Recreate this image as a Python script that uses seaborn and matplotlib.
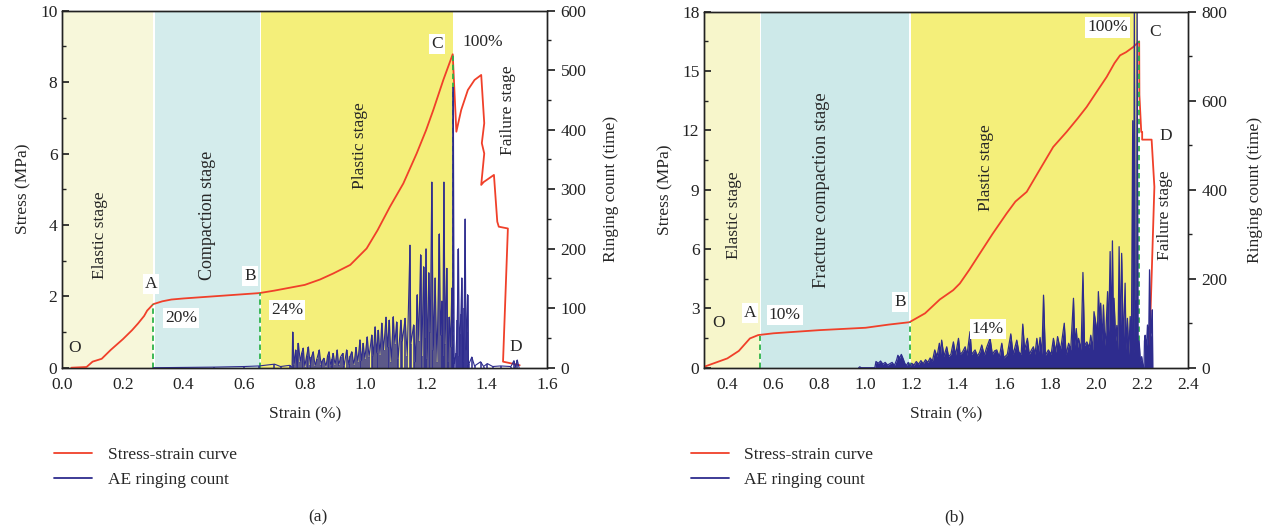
import numpy as np
import pandas as pd
import matplotlib
matplotlib.use("Agg")
import matplotlib.pyplot as plt
import seaborn as sns
from matplotlib.lines import Line2D
from matplotlib.ticker import MultipleLocator

# ---------------- data: panel (a) ----------------
stress_a_strain = [0.03, 0.08, 0.10, 0.13, 0.16, 0.20, 0.23, 0.25, 0.27, 0.28, 0.30, 0.33, 0.36, 0.40,
                   0.50, 0.60, 0.65, 0.70, 0.75, 0.80, 0.85, 0.894, 0.95, 1.004, 1.04, 1.081, 1.125,
                   1.169, 1.20, 1.224, 1.257, 1.288, 1.30, 1.316, 1.338, 1.36, 1.382, 1.392, 1.384,
                   1.392, 1.382, 1.39, 1.424, 1.435, 1.44, 1.47, 1.454, 1.509]
stress_a = [0.0, 0.02, 0.17, 0.25, 0.50, 0.80, 1.05, 1.24, 1.45, 1.60, 1.78, 1.86, 1.91, 1.94,
            2.00, 2.06, 2.09, 2.16, 2.24, 2.32, 2.47, 2.64, 2.88, 3.34, 3.85, 4.51, 5.16,
            6.00, 6.65, 7.22, 8.06, 8.78, 6.61, 7.22, 7.78, 8.06, 8.20, 6.85, 6.29,
            6.00, 5.12, 5.20, 5.40, 4.09, 3.95, 3.90, 0.17, 0.07]

ae_a_strain = [0.30, 0.50, 0.60, 0.65, 0.70, 0.72, 0.75, 0.758, 0.760, 0.765, 0.770, 0.775, 0.779,
               0.785, 0.790, 0.795, 0.800, 0.806, 0.812, 0.818, 0.822, 0.828, 0.834, 0.840, 0.848,
               0.854, 0.858, 0.863, 0.870, 0.875, 0.880, 0.886, 0.890, 0.894, 0.900, 0.907, 0.912,
               0.918, 0.925, 0.930, 0.938, 0.945, 0.950, 0.955, 0.962, 0.969, 0.975, 0.982, 0.987,
               0.993, 0.998, 1.006, 1.012, 1.021, 1.026, 1.032, 1.037, 1.043, 1.048, 1.054, 1.060,
               1.068, 1.073, 1.079, 1.085, 1.092, 1.097, 1.103, 1.108, 1.117, 1.122, 1.131, 1.138,
               1.147, 1.150, 1.159, 1.165, 1.171, 1.176, 1.182, 1.186, 1.192, 1.196, 1.200, 1.204,
               1.209, 1.214, 1.219, 1.224, 1.230, 1.236, 1.244, 1.248, 1.252, 1.255, 1.259, 1.263,
               1.268, 1.272, 1.277, 1.281, 1.285, 1.288, 1.290, 1.293, 1.299, 1.303, 1.307, 1.310,
               1.312, 1.315, 1.318, 1.321, 1.323, 1.326, 1.329, 1.332, 1.334, 1.337, 1.340, 1.342,
               1.351, 1.360, 1.380, 1.390, 1.402, 1.420, 1.446, 1.480, 1.490, 1.495, 1.501, 1.507]
ae_a_count = [0, 1, 2, 3, 6, 2, 4, 0, 60, 5, 30, 0, 41,
              10, 25, 33, 2, 20, 35, 5, 18, 27, 3, 15, 30,
              4, 12, 16, 2, 20, 27, 3, 15, 24, 5, 30, 4,
              18, 24, 3, 30, 6, 20, 27, 5, 34, 10, 47, 12,
              41, 15, 52, 18, 55, 20, 69, 25, 63, 22, 75, 30,
              85, 35, 80, 10, 86, 40, 77, 15, 80, 45, 83, 20,
              206, 40, 72, 10, 123, 45, 190, 20, 170, 50, 200, 15,
              160, 60, 312, 30, 151, 10, 225, 55, 112, 20, 312, 40,
              167, 10, 85, 35, 134, 20, 471, 5, 24, 80, 200, 20,
              57, 90, 151, 10, 29, 100, 250, 30, 60, 123, 5, 7,
              18, 3, 10, 2, 7, 2, 3, 2, 12, 1, 13, 0]

# ---------------- data: panel (b) ----------------
stress_b_strain = [0.30, 0.40, 0.45, 0.498, 0.534, 0.60, 0.70, 0.80, 0.90, 1.00, 1.10, 1.19, 1.258,
                   1.322, 1.38, 1.409, 1.45, 1.496, 1.55, 1.612, 1.65, 1.699, 1.75, 1.814, 1.872,
                   1.92, 1.959, 2.00, 2.046, 2.08, 2.104, 2.13, 2.161, 2.187, 2.188, 2.196, 2.200,
                   2.200, 2.241, 2.253, 2.237, 2.232]
stress_b = [0.05, 0.47, 0.85, 1.48, 1.65, 1.74, 1.82, 1.90, 1.96, 2.02, 2.18, 2.30, 2.75,
            3.45, 3.92, 4.26, 4.95, 5.78, 6.75, 7.80, 8.40, 8.89, 9.90, 11.16, 11.92,
            12.60, 13.18, 13.90, 14.70, 15.40, 15.79, 15.95, 16.21, 16.50, 13.80, 11.92, 11.92,
            11.53, 11.53, 9.14, 3.08, 0.80]

ae_b_strain = [0.97, 0.975, 0.98, 1.04, 1.045, 1.055, 1.065, 1.075, 1.085, 1.095, 1.105, 1.115, 1.125,
               1.135, 1.14, 1.148, 1.155, 1.163, 1.17, 1.177, 1.185, 1.192, 1.20, 1.21, 1.22, 1.23,
               1.24, 1.25, 1.26, 1.27, 1.28, 1.29, 1.30, 1.31, 1.32, 1.325, 1.33, 1.34, 1.345, 1.352,
               1.36, 1.37, 1.381, 1.39, 1.403, 1.41, 1.42, 1.432, 1.44, 1.453, 1.46, 1.475, 1.485,
               1.495, 1.504, 1.515, 1.525, 1.54, 1.55, 1.56, 1.569, 1.58, 1.591, 1.60, 1.605, 1.615,
               1.63, 1.64, 1.656, 1.665, 1.675, 1.682, 1.69, 1.702, 1.71, 1.72, 1.728, 1.735, 1.743,
               1.75, 1.757, 1.765, 1.772, 1.78, 1.793, 1.805, 1.815, 1.825, 1.833, 1.845, 1.85, 1.862,
               1.87, 1.881, 1.89, 1.902, 1.908, 1.914, 1.92, 1.924, 1.935, 1.943, 1.95, 1.96, 1.97,
               1.977, 1.985, 1.991, 2.00, 2.005, 2.01, 2.015, 2.02, 2.026, 2.032, 2.038, 2.043, 2.05,
               2.055, 2.061, 2.066, 2.071, 2.075, 2.078, 2.085, 2.09, 2.095, 2.10, 2.105, 2.111,
               2.118, 2.126, 2.13, 2.136, 2.142, 2.148, 2.153, 2.159, 2.163, 2.166, 2.17, 2.174,
               2.176, 2.178, 2.182, 2.187, 2.192, 2.198, 2.203, 2.208, 2.21, 2.213, 2.218, 2.223,
               2.228, 2.232, 2.236, 2.24, 2.244, 2.246]
ae_b_count = [0, 2, 0, 0, 14, 10, 15, 8, 12, 6, 9, 12, 5,
              18, 28, 22, 30, 20, 10, 5, 12, 3, 10, 6, 14, 8,
              16, 9, 18, 12, 22, 15, 40, 25, 55, 30, 62, 25, 35, 47,
              25, 30, 58, 28, 66, 30, 35, 47, 28, 81, 30, 40, 26,
              35, 51, 28, 45, 66, 30, 38, 40, 24, 55, 22, 25, 30,
              76, 30, 62, 35, 30, 98, 40, 66, 30, 40, 47, 30, 66,
              35, 68, 30, 163, 28, 40, 30, 66, 35, 70, 40, 55, 100,
              30, 55, 40, 156, 50, 88, 45, 66, 40, 214, 50, 58, 45,
              73, 40, 126, 96, 60, 171, 110, 145, 60, 141, 50, 85, 171,
              80, 261, 70, 285, 90, 156, 60, 95, 40, 272, 60, 257,
              50, 190, 40, 111, 30, 115, 25, 555, 30, 820, 40, 150,
              50, 820, 20, 60, 15, 25, 5, 0, 60, 73, 40, 96,
              50, 220, 70, 80, 130, 0]

# ---------------- style ----------------
sns.set_theme(style="white")
plt.rcParams["font.family"] = ["Liberation Serif", "DejaVu Serif"]

RED = "#F0402A"
BLUE = "#2E2C8E"
GREEN = "#2DB34A"
FS = 12.5

fig = plt.figure(figsize=(12.71, 5.32), dpi=100)
ax_a = fig.add_axes([0.049, 0.3088, 0.3816, 0.6711])
ax_b = fig.add_axes([0.5541, 0.3088, 0.3808, 0.6693])


def style_axes(ax, ax2):
    for a in (ax, ax2):
        for s in a.spines.values():
            s.set_color("#222222")
            s.set_linewidth(1.0)
    ax.tick_params(axis="both", which="both", direction="in", labelsize=FS, colors="#222222",
                   top=False, right=False)
    ax.tick_params(axis="x", which="major", pad=7)
    ax.tick_params(which="major", length=5)
    ax.tick_params(which="minor", length=3)
    ax2.tick_params(axis="y", which="both", direction="out", labelsize=FS, colors="#222222")
    ax2.tick_params(which="major", length=6)
    ax2.tick_params(which="minor", length=3)


def box(ax, x, y, s, white=True, size=FS, **kw):
    bb = dict(facecolor="white", edgecolor="none", pad=1.5) if white else None
    ax.text(x, y, s, fontsize=size, ha="center", va="center", bbox=bb, zorder=6, **kw)


# ================= panel (a) =================
ax = ax_a
ax.axvspan(0.0, 0.30, color="#F7F7DA", zorder=0, lw=0)
ax.axvspan(0.305, 0.652, color="#D4ECEC", zorder=0, lw=0)
ax.axvspan(0.657, 1.289, color="#F4EF7A", zorder=0, lw=0)
ax.set_xlim(0, 1.6)
ax.set_ylim(0, 10)
sns.lineplot(x=stress_a_strain, y=stress_a, sort=False, estimator=None, color=RED, lw=1.3, ax=ax, zorder=3)
for xs, ys in [(0.30, 1.78), (0.652, 2.09), (1.289, 8.78)]:
    ax.plot([xs, xs], [0, ys], ls=(0, (3, 2)), color=GREEN, lw=1.3, zorder=4)
ax.xaxis.set_major_locator(MultipleLocator(0.2))
ax.xaxis.set_minor_locator(MultipleLocator(0.1))
ax.yaxis.set_major_locator(MultipleLocator(2))
ax.yaxis.set_minor_locator(MultipleLocator(1))
ax.xaxis.set_major_formatter(matplotlib.ticker.FormatStrFormatter("%.1f"))
ax.set_xlabel("Strain (%)", fontsize=FS, labelpad=9)
ax.set_ylabel("Stress (MPa)", fontsize=FS, labelpad=6)

ax2 = ax.twinx()
ax2.set_ylim(0, 600)
ax2.vlines(ae_a_strain, 0, ae_a_count, color=BLUE, lw=1.1, zorder=2)
sns.lineplot(x=ae_a_strain, y=ae_a_count, sort=False, estimator=None, color=BLUE, lw=0.8, ax=ax2, zorder=2)
ax2.yaxis.set_major_locator(MultipleLocator(100))
ax2.yaxis.set_minor_locator(MultipleLocator(50))
ax2.set_ylabel("Ringing count (time)", fontsize=FS, labelpad=12)
style_axes(ax, ax2)

box(ax2, 0.042, 0.55 * 60, "O", white=False)
box(ax2, 0.293, 2.34 * 60, "A")
box(ax2, 0.619, 2.57 * 60, "B")
box(ax2, 1.236, 9.07 * 60, "C")
box(ax2, 1.497, 0.58 * 60, "D", white=False)
box(ax2, 0.392, 1.39 * 60, "20%")
box(ax2, 0.742, 1.62 * 60, "24%")
box(ax2, 1.388, 9.12 * 60, "100%", white=False)
box(ax2, 0.125, 3.72 * 60, "Elastic stage", white=False, rotation=90)
box(ax2, 0.48, 4.27 * 60, "Compaction stage", white=False, rotation=90, size=13)
box(ax2, 0.982, 6.23 * 60, "Plastic stage", white=False, rotation=90)
box(ax2, 1.47, 7.22 * 60, "Failure stage", white=False, rotation=90)

# ================= panel (b) =================
ax = ax_b
ax.axvspan(0.30, 0.540, color="#F7F6CB", zorder=0, lw=0)
ax.axvspan(0.545, 1.190, color="#CDE9E9", zorder=0, lw=0)
ax.axvspan(1.195, 2.182, color="#F4EF7A", zorder=0, lw=0)
ax.set_xlim(0.3, 2.4)
ax.set_ylim(0, 18)
sns.lineplot(x=stress_b_strain, y=stress_b, sort=False, estimator=None, color=RED, lw=1.3, ax=ax, zorder=3)
for xs, ys in [(0.542, 1.62), (1.192, 2.30), (2.187, 16.5)]:
    ax.plot([xs, xs], [0, ys], ls=(0, (3, 2)), color=GREEN, lw=1.3, zorder=4)
ax.xaxis.set_major_locator(MultipleLocator(0.2))
ax.xaxis.set_minor_locator(MultipleLocator(0.1))
ax.yaxis.set_major_locator(MultipleLocator(3))
ax.yaxis.set_minor_locator(MultipleLocator(1.5))
ax.xaxis.set_major_formatter(matplotlib.ticker.FormatStrFormatter("%.1f"))
ax.set_xlabel("Strain (%)", fontsize=FS, labelpad=9)
ax.set_ylabel("Stress (MPa)", fontsize=FS, labelpad=6)

ax2 = ax.twinx()
ax2.set_ylim(0, 800)
ax2.fill_between(ae_b_strain, 0, ae_b_count, color=BLUE, lw=0, zorder=2)
sns.lineplot(x=ae_b_strain, y=ae_b_count, sort=False, estimator=None, color=BLUE, lw=0.9, ax=ax2, zorder=2)
ax2.yaxis.set_major_locator(MultipleLocator(200))
ax2.yaxis.set_minor_locator(MultipleLocator(100))
ax2.set_ylabel("Ringing count (time)", fontsize=FS, labelpad=14)
style_axes(ax, ax2)

k = 800 / 18
box(ax2, 0.36, 2.26 * k, "O", white=False)
box(ax2, 0.498, 2.76 * k, "A")
box(ax2, 0.65, 2.66 * k, "10%")
box(ax2, 1.149, 3.32 * k, "B")
box(ax2, 1.531, 1.95 * k, "14%")
box(ax2, 2.051, 17.2 * k, "100%")
box(ax2, 2.256, 16.95 * k, "C", white=False)
box(ax2, 2.304, 11.7 * k, "D", white=False)
box(ax2, 0.429, 7.7 * k, "Elastic stage", white=False, rotation=90)
box(ax2, 0.81, 8.96 * k, "Fracture compaction stage", white=False, rotation=90, size=13.3)
box(ax2, 1.522, 10.09 * k, "Plastic stage", white=False, rotation=90)
box(ax2, 2.299, 7.7 * k, "Failure stage", white=False, rotation=90)

# ---------------- legends and panel labels ----------------
handles = [Line2D([], [], color=RED, lw=1.3), Line2D([], [], color=BLUE, lw=1.3)]
labels = ["Stress-strain curve", "AE ringing count"]
for xl in (0.030, 0.531):
    fig.legend(handles, labels, loc="upper left", bbox_to_anchor=(xl, 0.19), frameon=False,
               fontsize=FS, handlelength=2.2, handletextpad=0.9, labelspacing=0.55)
fig.text(0.250, 0.028, "(a)", fontsize=FS, ha="center", va="center")
fig.text(0.751, 0.028, "(b)", fontsize=FS, ha="center", va="center")

fig.savefig("out.png", dpi=100)
